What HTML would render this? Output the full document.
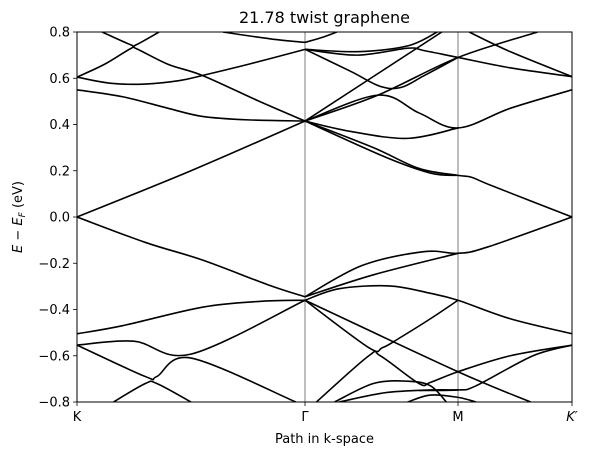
<!DOCTYPE html>
<html><head><meta charset="utf-8"><style>
body{margin:0;background:#fff;}
svg{display:block;font-family:"DejaVu Sans","Liberation Sans",sans-serif;}
</style></head><body>
<svg id="chart" width="589" height="456" viewBox="0 0 589 456">
<defs><clipPath id="clip"><rect x="77" y="32" width="495" height="370"/></clipPath></defs>
<rect x="0" y="0" width="589" height="456" fill="#fff"/>
<text x="324.5" y="23" font-size="16" text-anchor="middle">21.78 twist graphene</text>
<g id="vlines"></g>
<g id="bands" clip-path="url(#clip)"></g>
<rect x="77" y="32" width="495" height="370" fill="none" stroke="#000" stroke-width="1"/>
<g id="yaxis"></g>
<g id="xaxis"></g>
<text x="324.5" y="443" font-size="13" text-anchor="middle">Path in k-space</text>
<text transform="translate(22,217) rotate(-90)" font-size="13" text-anchor="middle"><tspan font-style="italic">E</tspan> − <tspan font-style="italic">E</tspan><tspan font-style="italic" font-size="9" dy="3">F</tspan><tspan dy="-3"> (eV)</tspan></text>
</svg>
<script>
const kLabels = ["K", "Γ", "M", "K′"];
const kTicks = [0, 1, 1.671, 2.171];
const yTicks = [-0.8, -0.6, -0.4, -0.2, 0.0, 0.2, 0.4, 0.6, 0.8];
const band1 = [[0,0],[0.5,0.2],[1,0.415]];
const band2 = [[0,0.55],[0.2,0.52],[0.4,0.47],[0.55,0.435],[0.75,0.42],[1,0.415]];
const band3 = [[0,0.605],[0.12,0.66],[0.235,0.728],[0.26,0.728],[0.4,0.66],[0.55,0.612],[0.8,0.5],[1,0.415]];
const band4 = [[0,0.605],[0.15,0.578],[0.3,0.575],[0.45,0.59],[0.55,0.612],[0.75,0.66],[1,0.725]];
const band5 = [[0.11,0.8],[0.235,0.745],[0.26,0.745],[0.36,0.8]];
const band6 = [[0.64,0.8],[0.85,0.77],[1,0.755]];
const band7 = [[1,0.755],[1.07,0.775],[1.14,0.8]];
const band8 = [[1,0.725],[1.23,0.715],[1.45,0.74],[1.58,0.8]];
const band9 = [[1,0.725],[1.23,0.7],[1.45,0.73],[1.52,0.72],[1.671,0.69],[1.9,0.645],[2.171,0.607]];
const band10 = [[1,0.725],[1.2,0.63],[1.33,0.565],[1.42,0.56],[1.52,0.61],[1.671,0.69]];
const band11 = [[1,0.415],[1.32,0.527],[1.671,0.69],[2.02,0.8]];
const band12 = [[1,0.415],[1.32,0.527],[1.5,0.45],[1.671,0.385],[1.9,0.47],[2.171,0.55]];
const band13 = [[1,0.415],[1.6,0.8]];
const band14 = [[1.72,0.8],[1.9,0.715],[2.171,0.607]];
const band15 = [[1,0.415],[1.2,0.37],[1.45,0.34],[1.671,0.385]];
const band16 = [[1,0.415],[1.3,0.3],[1.5,0.21],[1.671,0.18],[1.73,0.172],[1.82,0.135],[2.171,0]];
const band17 = [[1,0.415],[1.35,0.26],[1.55,0.19],[1.671,0.18]];
const band18 = [[0,0],[0.3,-0.11],[0.55,-0.186],[0.84,-0.294],[1,-0.345]];
const band19 = [[0,-0.505],[0.2,-0.47],[0.55,-0.39],[0.8,-0.365],[1,-0.36]];
const band20 = [[0,-0.554],[0.25,-0.537],[0.5,-0.593],[1,-0.36]];
const band21 = [[0,-0.554],[0.3,-0.69],[0.35,-0.69],[0.5,-0.61],[0.96,-0.8]];
const band22 = [[0.16,-0.8],[0.3,-0.72],[0.35,-0.72],[0.5,-0.8]];
const band23 = [[1,-0.345],[1.25,-0.21],[1.52,-0.15],[1.671,-0.157],[1.8,-0.13],[2.171,0]];
const band24 = [[1,-0.345],[1.3,-0.25],[1.671,-0.157]];
const band25 = [[1,-0.36],[1.15,-0.31],[1.37,-0.298],[1.55,-0.33],[1.671,-0.36],[1.9,-0.44],[2.171,-0.505]];
const band26 = [[1,-0.36],[1.28,-0.565],[1.34,-0.565],[1.42,-0.52],[1.55,-0.44],[1.671,-0.36]];
const band27 = [[1,-0.36],[1.671,-0.669],[1.99,-0.8]];
const band28 = [[1.05,-0.8],[1.28,-0.6],[1.33,-0.6],[1.5,-0.72],[1.55,-0.715],[1.671,-0.669],[1.9,-0.6],[2.171,-0.554]];
const band29 = [[1.5,-0.75],[1.671,-0.748],[1.75,-0.73],[2,-0.6],[2.171,-0.554]];
const band30 = [[1.13,-0.8],[1.3,-0.72],[1.45,-0.71],[1.55,-0.73],[1.62,-0.8]];
const band31 = [[1.15,-0.8],[1.35,-0.76],[1.55,-0.748],[1.671,-0.748]];
const band32 = [[1.45,-0.8],[1.55,-0.77],[1.671,-0.78],[1.75,-0.8]];
const bands = [band1,band2,band3,band4,band5,band6,band7,band8,band9,band10,band11,band12,band13,band14,band15,band16,band17,band18,band19,band20,band21,band22,band23,band24,band25,band26,band27,band28,band29,band30,band31,band32];

const X0=77, X1=572, Y0=402, Y1=32, KMAX=2.171, EMIN=-0.8, EMAX=0.8;
function xScale(k){return X0+(k/KMAX)*(X1-X0);}
function yScale(e){return Y0+(e-EMIN)/(EMAX-EMIN)*(Y1-Y0);}
const NS="http://www.w3.org/2000/svg";
function mk(tag,attrs,parent){const el=document.createElementNS(NS,tag);for(const a in attrs)el.setAttribute(a,attrs[a]);parent.appendChild(el);return el;}

const vl=document.getElementById('vlines');
kTicks.slice(1,3).forEach(k=>{
  const l=mk('line',{x1:xScale(k),x2:xScale(k),y1:Y1,y2:Y0,stroke:'#444','stroke-width':0.7},vl);
  
  
});

function pathFor(pts){
  const P=pts.map(p=>[xScale(p[0]),yScale(p[1])]);
  let d='M'+P[0][0].toFixed(2)+','+P[0][1].toFixed(2);
  for(let i=0;i<P.length-1;i++){
    const p0=P[Math.max(i-1,0)],p1=P[i],p2=P[i+1],p3=P[Math.min(i+2,P.length-1)];
    const c1=[p1[0]+(p2[0]-p0[0])/6,p1[1]+(p2[1]-p0[1])/6];
    const c2=[p2[0]-(p3[0]-p1[0])/6,p2[1]-(p3[1]-p1[1])/6];
    d+=' C'+c1[0].toFixed(2)+','+c1[1].toFixed(2)+' '+c2[0].toFixed(2)+','+c2[1].toFixed(2)+' '+p2[0].toFixed(2)+','+p2[1].toFixed(2);
  }
  return d;
}
const bg=document.getElementById('bands');
bands.forEach((b,i)=>{
  const p=mk('path',{d:pathFor(b),fill:'none',stroke:'#000','stroke-width':1.6},bg);
  
  
});

const ya=document.getElementById('yaxis');
yTicks.forEach(v=>{
  const y=yScale(v);
  const t=mk('line',{x1:X0-4,x2:X0,y1:y,y2:y,stroke:'#000','stroke-width':0.8},ya);
  
  
  const tx=mk('text',{x:X0-7,y:y+4.5,'font-size':13,'text-anchor':'end'},ya);
  tx.textContent=(v<0?'−':'')+Math.abs(v).toFixed(1);
  
  
});
const xa=document.getElementById('xaxis');
kTicks.forEach((k,i)=>{
  const x=xScale(k);
  const t=mk('line',{x1:x,x2:x,y1:Y0,y2:Y0+4,stroke:'#000','stroke-width':0.8},xa);
  
  
  const tx=mk('text',{x:x,y:Y0+19,'font-size':13,'text-anchor':'middle'},xa);
  if(i===3)tx.setAttribute('font-style','italic');
  tx.textContent=kLabels[i];
  
  
});
</script>
</body></html>
